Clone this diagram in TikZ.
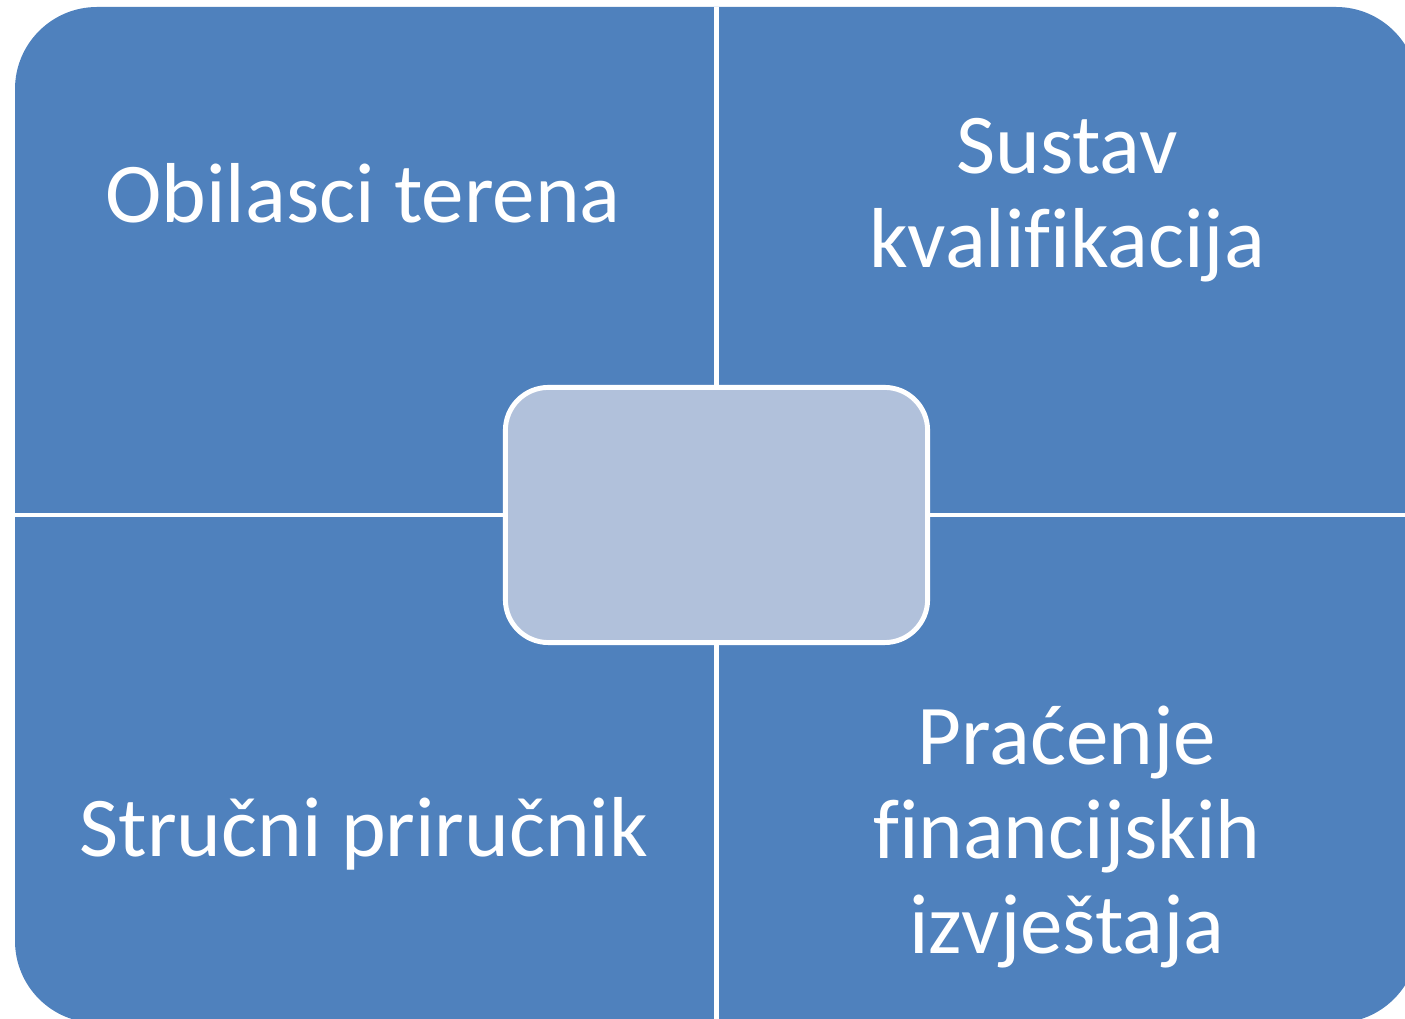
\documentclass[tikz,border=0pt]{standalone}
\usepackage{fontspec}
\setmainfont{Carlito}[Ligatures=CommonOff]
\definecolor{quadblue}{HTML}{4F81BD}
\definecolor{hubblue}{HTML}{B1C1DB}

\begin{document}
\begin{tikzpicture}[x=0.01cm,y=-0.01cm,
  quadtext/.style={text=white, align=center, font=\fontsize{24.2}{26.8}\selectfont}]
\useasboundingbox (0,0) rectangle (1405,1019);
\clip (0,0) rectangle (1405,1019);

\fill [quadblue, rounded corners=0.82cm] (15,7) rectangle (1418,1023);

\draw [white, line width=1.15pt] (716.5,7) -- (716.5,1023);
\draw [white, line width=1.15pt] (15,515) -- (1418,515);

\node [draw=white, line width=1.4pt, fill=hubblue, rounded corners=0.43cm,
  minimum width=4.22cm, minimum height=2.55cm] (hub) at (716.5,515) {};

\node [quadtext] (tl) at (363,193) {Obilasci terena};
\node [quadtext] (tr) at (1067,200) {Sustav\\kvalifikacija};
\node [quadtext] (bl) at (364,834) {Stručni priručnik};
\node [quadtext] (br) at (1067,837) {Praćenje\\financijskih\\izvještaja};

\end{tikzpicture}
\end{document}
